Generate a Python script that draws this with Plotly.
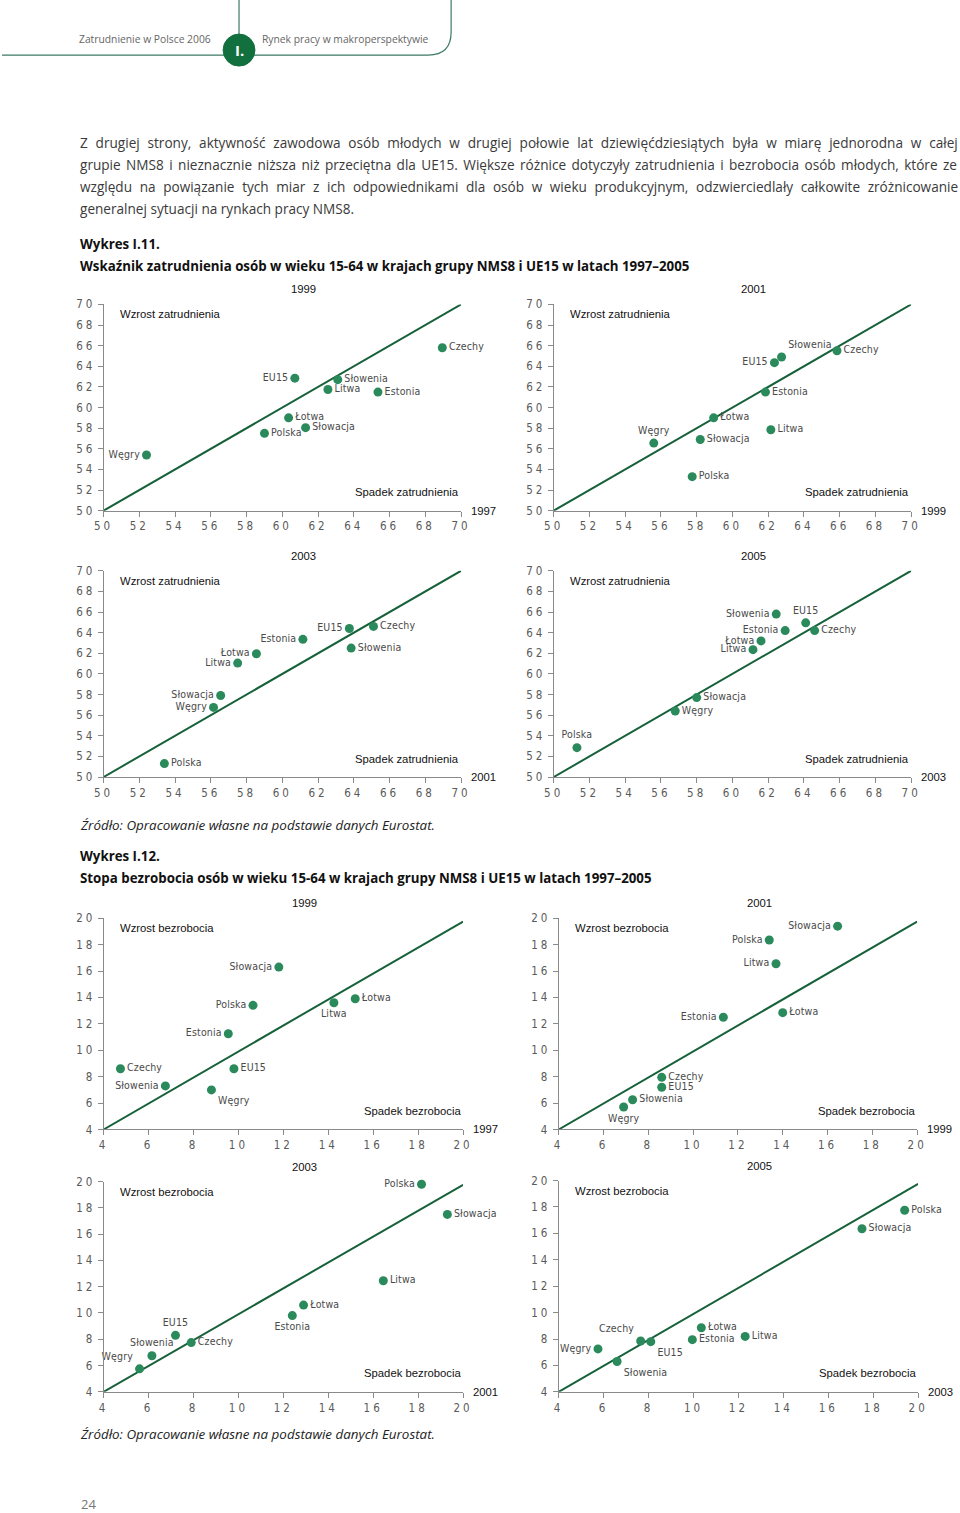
import plotly.graph_objects as go

W, H = 960, 1513
INSET = 8  # the plotting paper sits 8px inside the figure edge

# ---------------- DATA ----------------
# Wykres I.11 – employment rate (x: earlier year, y: later year)
emp1_names = ["Węgry", "Polska", "Łotwa", "Słowacja", "EU15", "Litwa", "Słowenia", "Estonia", "Czechy"]
emp1_x_1997 = [52.4, 59.0, 60.35, 61.3, 60.7, 62.55, 63.1, 65.35, 68.95]
emp1_y_1999 = [55.4, 57.5, 59.0, 58.05, 62.85, 61.75, 62.7, 61.5, 65.8]

emp2_names = ["Węgry", "Polska", "Słowacja", "Łotwa", "Estonia", "Litwa", "EU15", "Słowenia", "Czechy"]
emp2_x_1999 = [55.6, 57.75, 58.2, 58.95, 61.85, 62.15, 62.35, 62.75, 65.85]
emp2_y_2001 = [56.55, 53.3, 56.9, 59.0, 61.5, 57.85, 64.35, 64.9, 65.5]

emp3_names = ["Polska", "Węgry", "Słowacja", "Litwa", "Łotwa", "Estonia", "EU15", "Słowenia", "Czechy"]
emp3_x_2001 = [53.4, 56.15, 56.55, 57.5, 58.55, 61.15, 63.75, 63.85, 65.1]
emp3_y_2003 = [51.3, 56.75, 57.9, 61.05, 61.95, 63.35, 64.4, 62.5, 64.6]

emp4_names = ["Polska", "Węgry", "Słowacja", "Litwa", "Łotwa", "Estonia", "Słowenia", "EU15", "Czechy"]
emp4_x_2003 = [51.3, 56.8, 58.0, 61.15, 61.6, 62.95, 62.45, 64.1, 64.6]
emp4_y_2005 = [52.85, 56.4, 57.7, 62.35, 63.2, 64.2, 65.8, 64.95, 64.2]

# Wykres I.12 – unemployment rate
un1_names = ["Czechy", "Słowenia", "Węgry", "EU15", "Estonia", "Polska", "Słowacja", "Litwa", "Łotwa"]
un1_x_1997 = [4.75, 6.75, 8.8, 9.8, 9.55, 10.65, 11.8, 14.25, 15.2]
un1_y_1999 = [8.6, 7.3, 7.0, 8.6, 11.25, 13.4, 16.3, 13.6, 13.9]

un2_names = ["Węgry", "Słowenia", "EU15", "Czechy", "Estonia", "Łotwa", "Litwa", "Polska", "Słowacja"]
un2_x_1999 = [6.9, 7.3, 8.6, 8.6, 11.35, 14.0, 13.7, 13.4, 16.45]
un2_y_2001 = [5.7, 6.25, 7.2, 7.95, 12.5, 12.85, 16.55, 18.35, 19.4]

un3_names = ["Węgry", "Słowenia", "EU15", "Czechy", "Estonia", "Łotwa", "Litwa", "Polska", "Słowacja"]
un3_x_2001 = [5.6, 6.15, 7.2, 7.9, 12.4, 12.9, 16.45, 18.15, 19.3]
un3_y_2003 = [5.75, 6.75, 8.3, 7.75, 9.8, 10.6, 12.45, 19.8, 17.5]

un4_names = ["Węgry", "Słowenia", "Czechy", "EU15", "Estonia", "Łotwa", "Litwa", "Słowacja", "Polska"]
un4_x_2003 = [5.75, 6.6, 7.65, 8.1, 9.95, 10.35, 12.3, 17.5, 19.4]
un4_y_2005 = [7.25, 6.3, 7.85, 7.8, 7.95, 8.85, 8.2, 16.35, 17.75]

emp_ticks = list(range(50, 71, 2))
un_ticks = list(range(4, 21, 2))
emp_ticklabels = [str(v) for v in emp_ticks]
un_ticklabels = [str(v) for v in un_ticks]

# ---------------- STYLE / LAYOUT HELPERS ----------------
def px(x):
    return (x - INSET) / (W - 2 * INSET)

def py(y):
    return 1 - (y - INSET) / (H - 2 * INSET)

def spaced(s, ls):
    return f'<span style="letter-spacing:{ls}px">{s}</span>'

MARK = "#2b8a5c"
LINE = "#17613a"
AXC = "#8a8a8a"
TXT = "#4a4a4a"
NARROW = "Liberation Sans Narrow, DejaVu Sans Condensed, Arial Narrow, sans-serif"
ARIAL = "Liberation Sans, Arial, sans-serif"
BODY = "Open Sans, Noto Sans, sans-serif"

# label positions per panel (style only)
pos1 = ["middle left", "middle right", "middle right", "middle right", "middle left",
        "middle right", "middle right", "middle right", "middle right"]
pos2 = ["top center", "middle right", "middle right", "middle right", "middle right",
        "middle right", "middle left", "top right", "middle right"]
pos3 = ["middle right", "middle left", "middle left", "middle left", "middle left",
        "middle left", "middle left", "middle right", "middle right"]
pos4 = ["top center", "middle right", "middle right", "middle left", "middle left",
        "middle left", "middle left", "top center", "middle right"]
pos5 = ["middle right", "middle left", "bottom right", "middle right", "middle left",
        "middle left", "middle left", "bottom center", "middle right"]
pos6 = ["bottom center", "middle right", "middle right", "middle right", "middle left",
        "middle right", "middle left", "middle left", "middle left"]
pos7 = ["top left", "top center", "top center", "middle right", "bottom center",
        "middle right", "middle right", "middle left", "middle right"]
pos8 = ["middle left", "bottom right", "top left", "bottom right", "middle right",
        "middle right", "middle right", "middle right", "middle right"]

# panels: names, x, y, positions, title year, base year, kind, page pixel box (x0, x1, ytop, ybottom)
panels = [
    (emp1_names, emp1_x_1997, emp1_y_1999, pos1, "1999", "1997", "emp", (102, 461, 305, 511)),
    (emp2_names, emp2_x_1999, emp2_y_2001, pos2, "2001", "1999", "emp", (554, 913, 305, 511)),
    (emp3_names, emp3_x_2001, emp3_y_2003, pos3, "2003", "2001", "emp", (102, 461, 571, 777)),
    (emp4_names, emp4_x_2003, emp4_y_2005, pos4, "2005", "2003", "emp", (554, 913, 571, 777)),
    (un1_names, un1_x_1997, un1_y_1999, pos5, "1999", "1997", "un", (102, 463, 918, 1129)),
    (un2_names, un2_x_1999, un2_y_2001, pos6, "2001", "1999", "un", (559, 919, 918, 1129)),
    (un3_names, un3_x_2001, un3_y_2003, pos7, "2003", "2001", "un", (102, 463, 1181, 1391)),
    (un4_names, un4_x_2003, un4_y_2005, pos8, "2005", "2003", "un", (559, 920, 1180, 1391)),
]

fig = go.Figure()
annotations = []
layout_axes = {}

for i, (names, xs, ys, pos, yr, base, kind, box) in enumerate(panels, start=1):
    sx = "" if i == 1 else str(i)
    xa, ya = "x" + sx, "y" + sx
    x0, x1, yt, yb = box
    if kind == "emp":
        rng = [50, 70]
        ticks, tlabels = emp_ticks, emp_ticklabels
        diag = [50, 70.2]
        diag_y = [50, 70.2]
        up, down = "Wzrost zatrudnienia", "Spadek zatrudnienia"
    else:
        rng = [4, 20]
        ticks, tlabels = un_ticks, un_ticklabels
        diag = [4, 20]
        diag_y = [4, 19.75]
        up, down = "Wzrost bezrobocia", "Spadek bezrobocia"

    fig.add_trace(go.Scatter(x=diag, y=diag_y, mode="lines", xaxis=xa, yaxis=ya,
                             line=dict(color=LINE, width=2), hoverinfo="skip",
                             showlegend=False, cliponaxis=False))
    fig.add_trace(go.Scatter(x=xs, y=ys, mode="markers+text",
                             text=[spaced(n, 0.15) for n in names], textposition=pos,
                             xaxis=xa, yaxis=ya, cliponaxis=False, showlegend=False,
                             marker=dict(color=MARK, size=9),
                             textfont=dict(family=NARROW, size=10.5, color=TXT)))

    axis_common = dict(range=rng, tickvals=ticks, ticktext=[spaced(t, 3) for t in tlabels],
                       showgrid=False, zeroline=False,
                       showline=True, linecolor=AXC, linewidth=1, ticks="outside",
                       ticklen=5, tickcolor=AXC, tickwidth=1,
                       tickfont=dict(family=NARROW, size=11.5, color="#5a5a5a"),
                       fixedrange=True)
    layout_axes["xaxis" + sx] = dict(axis_common, domain=[px(x0), px(x1)], anchor=ya)
    layout_axes["yaxis" + sx] = dict(axis_common, domain=[py(yb), py(yt)], anchor=xa)

    xd, yd = xa + " domain", ya + " domain"
    qfont = dict(family=ARIAL, size=11.3, color="#111")
    annotations += [
        dict(text=yr, xref=xd, yref=yd, x=0.56, y=1.0, yshift=7, showarrow=False,
             xanchor="center", yanchor="bottom", font=qfont),
        dict(text=up, xref=xd, yref=yd, x=0.04, y=0.99, showarrow=False,
             xanchor="left", yanchor="top", font=qfont),
        dict(text=down, xref=xd, yref=yd, x=1.0, y=0.05, showarrow=False,
             xanchor="right", yanchor="bottom", font=qfont),
        dict(text=base, xref=xd, yref=yd, x=1.0, y=0.0, xshift=8, showarrow=False,
             xanchor="left", yanchor="middle", font=qfont),
    ]

# ---------------- PAGE TEXT ----------------
def page_text(text, x, y, size, color="#333333", family=BODY, xanchor="left", bold=False,
              italic=False, wordspace=None):
    t = text
    if wordspace is not None:
        t = f'<span style="word-spacing:{wordspace}px">{t}</span>'
    if bold:
        t = "<b>" + t + "</b>"
    if italic:
        t = "<i>" + t + "</i>"
    return dict(text=t, xref="paper", yref="paper", x=px(x), y=py(y), showarrow=False,
                xanchor=xanchor, yanchor="middle", font=dict(family=family, size=size, color=color))

para = [
    "Z drugiej strony, aktywność zawodowa osób młodych w drugiej połowie lat dziewięćdziesiątych była w miarę jednorodna w całej",
    "grupie NMS8 i nieznacznie niższa niż przeciętna dla UE15. Większe różnice dotyczyły zatrudnienia i bezrobocia osób młodych, które ze",
    "względu na powiązanie tych miar z ich odpowiednikami dla osób w wieku produkcyjnym, odzwierciedlały całkowite zróżnicowanie",
    "generalnej sytuacji na rynkach pracy NMS8.",
]
para_wordspace = [4.3, 1.9, 4.1, None]
for k, line in enumerate(para):
    annotations.append(page_text(line, 76, 143 + 22 * k, 13.6, "#3a3a3a", wordspace=para_wordspace[k]))

annotations += [
    page_text("Zatrudnienie w Polsce 2006", 212, 40, 10.3, "#666666", xanchor="right"),
    page_text("Rynek pracy w makroperspektywie", 259, 40, 10.3, "#666666"),
    page_text("I.", 238, 51, 15, "#ffffff", xanchor="center", bold=True),
    page_text("Wykres I.11.", 76, 245, 13.3, "#111111", bold=True),
    page_text("Wskaźnik zatrudnienia osób w wieku 15-64 w krajach grupy NMS8 i UE15 w latach 1997–2005",
              76, 267, 13.3, "#111111", bold=True),
    page_text("Źródło: Opracowanie własne na podstawie danych Eurostat.", 76, 825, 13.4, "#222222", italic=True),
    page_text("Wykres I.12.", 76, 856, 13.3, "#111111", bold=True),
    page_text("Stopa bezrobocia osób w wieku 15-64 w krajach grupy NMS8 i UE15 w latach 1997–2005",
              76, 878, 13.3, "#111111", bold=True),
    page_text("Źródło: Opracowanie własne na podstawie danych Eurostat.", 76, 1433, 13.4, "#222222", italic=True),
    page_text("24", 77, 1503, 13, "#777777"),
]

HDR = "#3d7a63"
shapes = [
    dict(type="line", xref="paper", yref="paper", x0=px(0), x1=px(223), y0=py(56), y1=py(56),
         line=dict(color=HDR, width=1.2)),
    dict(type="line", xref="paper", yref="paper", x0=px(238), x1=px(238), y0=py(0), y1=py(35),
         line=dict(color=HDR, width=1.2)),
    dict(type="path", xref="paper", yref="paper",
         path=f"M {px(253)} {py(56)} L {px(428)} {py(56)} Q {px(451)} {py(56)} {px(451)} {py(33)} L {px(451)} {py(0)}",
         line=dict(color=HDR, width=1.2)),
    dict(type="circle", xref="paper", yref="paper", x0=px(222), x1=px(254), y0=py(67), y1=py(35),
         fillcolor="#11703e", line=dict(color="#11703e", width=1)),
]

fig.update_layout(
    width=W, height=H,
    margin=dict(l=0, r=0, t=0, b=0),
    paper_bgcolor="white", plot_bgcolor="white",
    showlegend=False,
    annotations=annotations,
    shapes=shapes,
    **layout_axes,
)

post = (
    "document.documentElement.style.margin='0';"
    "document.body.style.margin='0';"
    "document.documentElement.style.overflow='hidden';"
    "document.body.style.overflow='hidden';"
)
fig.write_html("out.html", config={"displayModeBar": False}, post_script=post)
